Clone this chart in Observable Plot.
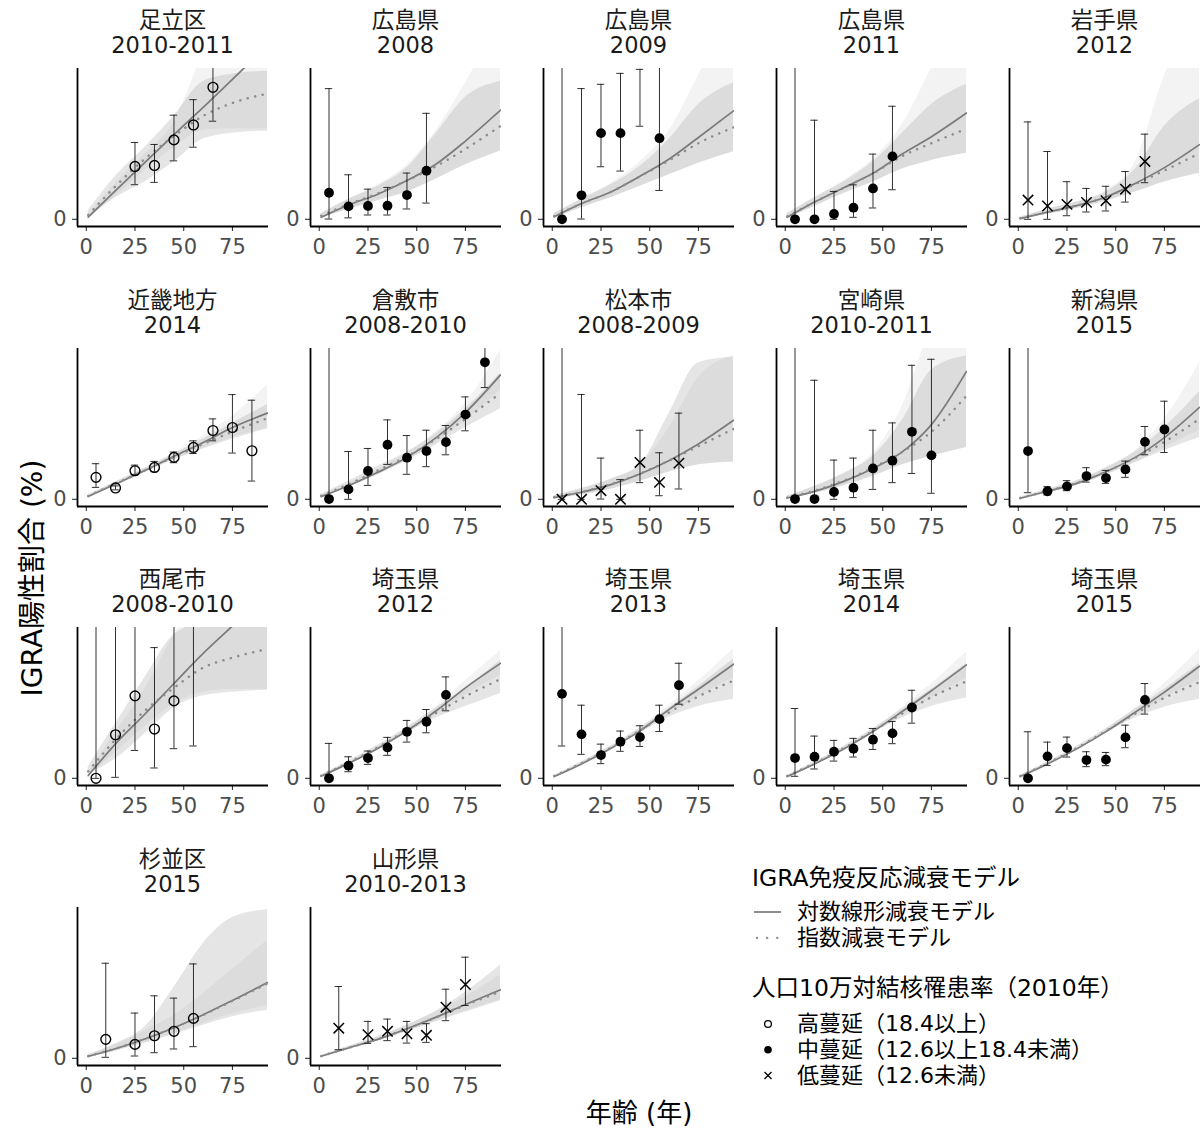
<!DOCTYPE html>
<html>
<head>
<meta charset="utf-8">
<script src="https://cdn.jsdelivr.net/npm/d3@7"></script>
<script src="https://cdn.jsdelivr.net/npm/@observablehq/plot@0.6"></script>
<style>
  body { margin: 0; background: #fff; }
  #chart { position: relative; width: 1202px; height: 1135px; overflow: hidden;
    font-family: "DejaVu Sans", "Noto Sans CJK JP", sans-serif; color: #1a1a1a; }
  .strip { position: absolute; width: 233px; text-align: center; font-size: 22.5px; line-height: 25px; white-space: nowrap; }
  .axis-title { position: absolute; font-size: 26px; white-space: nowrap; color: #000; }
  .leg { position: absolute; font-size: 22px; white-space: nowrap; color: #000; line-height: 22px; }
  .leg.head { font-size: 23.5px; }
  svg.panel { position: absolute; overflow: visible; }
</style>
</head>
<body>
<div id="chart"></div>
<script>
// Facet labels: region and survey period, plus TB notification tier (2010)
const regions = ["足立区","広島県","広島県","広島県","岩手県","近畿地方","倉敷市","松本市","宮崎県","新潟県","西尾市","埼玉県","埼玉県","埼玉県","埼玉県","杉並区","山形県"];
const periods = ["2010-2011","2008","2009","2011","2012","2014","2008-2010","2008-2009","2010-2011","2015","2008-2010","2012","2013","2014","2015","2015","2010-2013"];
const burden  = ["high","mid","mid","mid","low","high","mid","low","mid","mid","high","mid","mid","mid","mid","high","low"];

// Observed IGRA positivity by age group (relative to each panel's own scale) with 95% CI
const obsAge = [
  [25,35,45,55,65],
  [5,15,25,35,45,55],
  [5,15,25,35,45,55],
  [5,15,25,35,45,55],
  [5,15,25,35,45,55,65],
  [5,15,25,35,45,55,65,75,85],
  [5,15,25,35,45,55,65,75,85],
  [5,15,25,35,45,55,65],
  [5,15,25,35,45,55,65,75],
  [5,15,25,35,45,55,65,75],
  [5,15,25,35,45,55],
  [5,15,25,35,45,55,65],
  [5,15,25,35,45,55,65],
  [5,15,25,35,45,55,65],
  [5,15,25,35,45,55,65],
  [10,25,35,45,55],
  [10,25,35,45,55,65,75]
];
const obsValue = [
  [36.8,37.5,55.3,65.7,91.9],
  [18.5,9,9.3,9.5,16.9,33.8],
  [0,16.7,60,60,112,56.5],
  [0,0,3.7,8.1,21.5,43.8],
  [13.4,9.3,10.4,11.8,13,21,40.3],
  [15.3,7.9,19.9,22.2,29.2,36.1,47.9,50,33.8],
  [0.2,6.9,19.7,38,29,33.6,39.8,59,95.4],
  [0,0,6,0,25.7,11.8,25.2],
  [0.2,0.2,5.1,8.1,21.5,26.9,47,30.6],
  [33.6,5.6,9,16.2,14.8,20.8,40,48.6],
  [0,30.3,57.4,34.3,53.9,112],
  [0,8.8,14.1,21.5,32.4,39.4,58.1],
  [58.8,30.6,16.2,25.5,28.7,41.2,64.8],
  [14.1,15,18.5,20.6,26.9,31.3,49.3],
  [0,15.3,21,12.7,13,28.5,54.6],
  [13.2,9.7,15.7,18.8,27.8],
  [21,16.4,18.8,17.1,16,35.6,51.4]
];
const obsLow = [
  [24.1,25.7,40.7,50.2,68.3],
  [0.2,1,3,3,7.2,11.3],
  [0,0.2,36.6,33.6,64.8,20.1],
  [0,0,0,1.4,7.9,20.6],
  [0,0,2.5,5.1,5.8,12,25.5],
  [8.3,6.6,17.1,19.2,25.5,31.9,40.7,32.2,12.7],
  [0,0,9.7,24.3,17.4,22.7,31,47.7,77.8],
  [0,0,0.2,0,11.6,2.5,7.2],
  [0,0,0,1.2,6.9,11.6,18,4.2],
  [4.6,3,6,12,11.1,15.3,31,32.6],
  [0,0.7,19.4,7.2,20.6,22.5],
  [0,4.6,9.7,16,25.2,31.7,47],
  [22.5,16.7,10.2,18.8,22.2,32.6,51.6],
  [1.4,6.5,12,14.8,20.1,24.1,38.4],
  [0,9,14.8,8.1,8.8,21.3,44.7],
  [0.7,1.6,3.9,6.5,8.1],
  [6,10.4,12.3,10.6,11.1,26.2,36.8]
];
const obsHigh = [
  [53.5,52.1,72.5,83.3,130],
  [91,31,21,22.2,32.2,73.8],
  [150,91,94,101.6,104.4,150],
  [150,69,19.4,24,45.4,78.7],
  [67.8,47.2,26.2,21.5,23,33.3,59.3],
  [24.8,9.3,23.8,26.4,32.9,40.7,56,72.9,69],
  [150,33.3,35.4,55.3,44.4,48.1,51.4,71.3,130],
  [150,73,28.7,13.7,48.1,32.4,60],
  [150,82.9,27.3,28.7,48.1,53.2,93.3,97.5],
  [150,8.8,13,22,20.1,26.6,50.7,68.3],
  [150,150,150,91,150,150],
  [24.3,15,19,28.5,40.3,47.9,70.6],
  [150,50.9,23.8,32.9,36.6,50.9,80.1],
  [48.6,29.4,26.4,27.8,34.7,39.6,61.3],
  [32.4,25.2,28.7,18.5,18,37,66],
  [66.2,31.5,43.5,41.9,65.7],
  [50,25.7,27.3,25.7,24.1,48.1,70.4]
];

// Model predictions evaluated at these ages
const modelAges = [1,15,30,45,60,75,93];
// Log-linear decay model: mean and 95% band
const logLinMean = [
  [1.5,20,39.5,59,78,97.5,121],
  [1.5,10,17.5,27,38.5,54.5,76],
  [1.8,11,19,30,42,57,75.5],
  [1.4,12,22,32,45.5,57.5,74],
  [0.5,5,9.5,15.5,25,36,52],
  [2,10.6,20,30,39.5,50,60],
  [1.9,9.5,18.8,29.2,43,60.4,86.6],
  [1.2,4.9,10.2,17.6,27,38.5,55],
  [0.9,5.5,12.5,21.5,33,52,89],
  [0.7,5.6,11.1,19.2,29.2,43,64],
  [1.9,24,44.6,66,87,106,128],
  [1.4,10.4,20.8,33.1,47,63,80],
  [1.2,10,20.8,33,48,62,79.4],
  [1.2,10,20.4,32.6,46.5,61,79],
  [1.2,10,20.5,32.5,46,60,78],
  [1.4,6.7,13.4,21.3,30.3,40.3,52.8],
  [1.4,7.2,13.2,20.6,28.7,37.5,47.7]
];
const logLinLow = [
  [0.5,16,34,50,62,63,63],
  [0.5,7,13,19,28,38,47.5],
  [0.5,8,15,23,31,39,47],
  [0.5,9,18,26,35,41,46],
  [0.2,3.5,7.5,12.5,19,26,32],
  [1.5,9.5,18.5,27.5,35.5,43,50],
  [1.5,8.5,17,27,39.5,55,76],
  [0.5,3,7,12.5,19,24,26],
  [0.4,4,9.5,16,24,30,36],
  [0.4,4.6,9.8,17,25.5,36,48],
  [1,18,36,52,60,62,62],
  [1,9.6,19.8,31.5,44,58,72],
  [1,9.4,19.8,31.5,44,57,70],
  [1,9.4,19.5,31.5,43.5,56,70],
  [1,9.4,19.5,31.3,43.5,55.5,69],
  [0.8,5.5,11,17.5,24.5,31,37],
  [1,6.3,12,18.8,26,33,41]
];
const logLinHigh = [
  [3,25,45,68,115,150,170],
  [4,14,24,38,62,95,140],
  [4,14,25,40,62,100,150],
  [4,15,27,42,66,105,150],
  [1.5,7,12,20,40,100,150],
  [3,12,22,32,44,58,80],
  [3,11,21,32,47,67,104],
  [2.5,7.5,14,24,50,85,100],
  [2.5,9,18,32,65,120,160],
  [1.4,7,13,22,34,56,95],
  [4,32,62,100,130,150,170],
  [2.4,11.5,22,35,50,68,89],
  [2,11,22,35,51,68,90],
  [2,11,21.5,34,49.5,66,88],
  [2,11,21.5,34,49,66,90],
  [2.4,9.5,19,30,45,62,82],
  [1.8,8.2,14.7,23,32.5,43,58]
];
// Exponential decay model: mean and 95% band
const expMean = [
  [3,23,42,58,72,81,87.5],
  [2.5,10.5,18,27,37,49,65],
  [2.2,11,19,30,41,53,64],
  [2,12,22,32,44,53,63],
  [0.7,5,9.5,15.5,24.5,34,46],
  [2.3,11,20,29.5,38.5,47,56.5],
  [2.5,10.5,20,30,42,56,74],
  [1.5,5.2,10.5,17.8,27,37,49],
  [1.2,6,13,22,33,47,72],
  [0.9,5.8,11.3,19.3,28.8,40,56],
  [4.9,27,47,63,77,84,90],
  [1.8,11,21.5,33.5,45.5,57,69],
  [1.6,10.6,21.3,33.3,46,57,68],
  [1.6,10.5,21,33,45,56.5,67.5],
  [1.6,10.5,21,33,45,56,67],
  [1.5,6.8,13.5,21.3,30.2,40,52],
  [1.5,7.3,13.3,20.6,28.5,37,46.5]
];
const expLow = [
  [1,15,26,40,56,60,61.5],
  [0.5,7,13,19,28,38,47.5],
  [0.5,8,15,23,31,39,47],
  [0.5,9,18,26,35,41,46],
  [0.2,3.5,7.5,12.5,19,26,32],
  [1.5,9.5,18.5,27.5,35,42,49],
  [1.5,8.5,17,27,38,50,63],
  [0.5,3,7,12.5,19,24,26],
  [0.4,4,9.5,16,24,30,36],
  [0.4,4.6,9.8,17,25.5,34,43],
  [3,13.4,30.8,49,57.4,60,61.3],
  [1.2,9.8,20,31.5,42,50,59],
  [1,9.5,20,31.5,42.5,50,55],
  [1,9.6,19.8,31.5,42,50,56],
  [1,9.5,19.8,31.5,42,49.5,55],
  [0.8,5,10.5,16.5,23,29,33.5],
  [1,6.2,11.8,18.5,25.5,32,40]
];
const expHigh = [
  [6,30,50,72,96,101,103],
  [4,14,23,36,60,85,96],
  [4,14,24,37,56,80,95],
  [4,15,26,40,60,80,94],
  [1.5,7,12,19,35,65,84],
  [3,12,21.5,31.5,42,53,66],
  [3.5,12.5,23,33,46,63,88],
  [2.5,7.5,14,24,60,95,99],
  [2.5,9,18,30,55,90,100],
  [1.4,7,13,22,33,50,75],
  [8,38,70,100,108,108,108],
  [2.4,12,23,35.5,49,63,82],
  [2.2,11.5,22.5,35,49,64,83],
  [2.2,11.4,22.3,34.5,48,62,80],
  [2.2,11.5,22.3,34.5,48,62,80],
  [2.5,10.2,21.8,49.5,80,98,103.5],
  [2,8.4,15,23,33,46,65]
];

const xTicks = [0, 25, 50, 75];
const yTicks = [0];
const legendModels = ["対数線形減衰モデル", "指数減衰モデル"];
const legendTiers = ["高蔓延（18.4以上）", "中蔓延（12.6以上18.4未満）", "低蔓延（12.6未満）"];

// ---- layout ----
const FONT = '"DejaVu Sans", "Noto Sans CJK JP", sans-serif';
const colX = [77, 310, 543, 776, 1009];
const rowY = [68, 348, 627, 907];
const PW = 191, PH = 158;
const ML = 44, MR = 2, MT = 2, MB = 44;
const X_DOMAIN = [-4.5, 93.5];
const Y_DOMAIN = [-5, 105];
const CAP = 1.9; // half-width of error-bar caps, in years
const DOTTED = "0.1 7.6";

const symbolStyle = {
  high: {symbol: "circle", r: 4.9, fill: "none", stroke: "#000", strokeWidth: 1.4},
  mid:  {symbol: "circle", r: 4.9, fill: "#000", stroke: "none"},
  low:  {symbol: "times", r: 4.8, fill: "none", stroke: "#000", strokeWidth: 1.5}
};

const chart = document.getElementById("chart");

regions.forEach((region, i) => {
  const col = i % 5, row = Math.floor(i / 5);
  const obs = obsAge[i].map((a, j) => ({age: a, v: obsValue[i][j], lo: obsLow[i][j], hi: obsHigh[i][j]}));
  const model = modelAges.map((a, j) => ({
    age: a,
    ll: logLinMean[i][j], llLo: logLinLow[i][j], llHi: logLinHigh[i][j],
    ex: expMean[i][j], exLo: expLow[i][j], exHi: expHigh[i][j]
  }));

  const svg = Plot.plot({
    width: ML + PW + MR,
    height: MT + PH + MB,
    marginLeft: ML, marginRight: MR, marginTop: MT, marginBottom: MB,
    x: {domain: X_DOMAIN},
    y: {domain: Y_DOMAIN},
    style: {fontFamily: FONT, background: "transparent", overflow: "visible"},
    marks: [
      Plot.areaY(model, {x: "age", y1: "exLo", y2: "exHi", fill: "#999", fillOpacity: 0.25, curve: "monotone-x", clip: true}),
      Plot.areaY(model, {x: "age", y1: "llLo", y2: "llHi", fill: "#999", fillOpacity: 0.12, curve: "monotone-x", clip: true}),
      Plot.line(model, {x: "age", y: "ll", stroke: "#7a7a7a", strokeWidth: 1.7, curve: "monotone-x", clip: true}),
      Plot.line(model, {x: "age", y: "ex", stroke: "#8c8c8c", strokeWidth: 2.5, strokeLinecap: "round", strokeDasharray: DOTTED, curve: "monotone-x", clip: true}),
      Plot.ruleX(obs, {x: "age", y1: "lo", y2: "hi", stroke: "#1a1a1a", strokeWidth: 0.9, clip: true}),
      Plot.ruleY(obs, {y: "hi", x1: d => d.age - CAP, x2: d => d.age + CAP, stroke: "#1a1a1a", strokeWidth: 0.9, clip: true}),
      Plot.ruleY(obs, {y: "lo", x1: d => d.age - CAP, x2: d => d.age + CAP, stroke: "#1a1a1a", strokeWidth: 0.9, clip: true}),
      Plot.dot(obs, {x: "age", y: "v", ...symbolStyle[burden[i]], clip: true}),
      Plot.axisX({ticks: xTicks, tickSize: 5, tickPadding: 8, fontSize: 21, label: null, stroke: "#333", strokeWidth: 1.1, fill: "#4d4d4d"}),
      Plot.axisY({ticks: yTicks, tickSize: 5, tickPadding: 6, fontSize: 21, label: null, stroke: "#333", strokeWidth: 1.1, fill: "#4d4d4d"}),
      Plot.ruleY([Y_DOMAIN[0]], {stroke: "#000", strokeWidth: 1.8}),
      Plot.ruleX([X_DOMAIN[0]], {stroke: "#000", strokeWidth: 1.8})
    ]
  });
  svg.classList.add("panel");
  svg.style.left = (colX[col] - ML) + "px";
  svg.style.top = (rowY[row] - MT) + "px";
  chart.appendChild(svg);

  const strip = document.createElement("div");
  strip.className = "strip";
  strip.style.left = (colX[col] + PW / 2 - 116.5) + "px";
  strip.style.top = (rowY[row] - 60) + "px";
  strip.innerHTML = region + "<br>" + periods[i];
  chart.appendChild(strip);
});

// axis titles
const yTitle = document.createElement("div");
yTitle.className = "axis-title";
yTitle.textContent = "IGRA陽性割合 (%)";
yTitle.style.fontSize = "28px";
yTitle.style.left = "30px";
yTitle.style.top = "578px";
yTitle.style.transform = "translate(-50%, -50%) rotate(-90deg)";
chart.appendChild(yTitle);

const xTitle = document.createElement("div");
xTitle.className = "axis-title";
xTitle.textContent = "年齢 (年)";
xTitle.style.left = "639px";
xTitle.style.top = "1110px";
xTitle.style.transform = "translate(-50%, -50%)";
chart.appendChild(xTitle);

// legends
function legText(txt, x, yCenter, head) {
  const d = document.createElement("div");
  d.className = head ? "leg head" : "leg";
  d.textContent = txt;
  d.style.left = x + "px";
  d.style.top = (yCenter - 11) + "px";
  chart.appendChild(d);
}
legText("IGRA免疫反応減衰モデル", 752, 878, true);
legText(legendModels[0], 797, 912);
legText(legendModels[1], 797, 938);
legText("人口10万対結核罹患率（2010年）", 752, 988, true);
legendTiers.forEach((t, k) => legText(t, 797, 1024 + k * 25.8));

const keys = d3.select(chart).append("svg")
  .attr("width", 60).attr("height", 200)
  .style("position", "absolute").style("left", "745px").style("top", "895px");
keys.append("line").attr("x1", 9).attr("x2", 36).attr("y1", 17).attr("y2", 17)
  .attr("stroke", "#7a7a7a").attr("stroke-width", 1.7);
keys.append("line").attr("x1", 12).attr("x2", 36).attr("y1", 43).attr("y2", 43)
  .attr("stroke", "#8c8c8c").attr("stroke-width", 2.3).attr("stroke-linecap", "round").attr("stroke-dasharray", "0.1 10");
keys.append("circle").attr("cx", 23).attr("cy", 129).attr("r", 3.4)
  .attr("fill", "none").attr("stroke", "#000").attr("stroke-width", 1.3);
keys.append("circle").attr("cx", 23).attr("cy", 154.8).attr("r", 3.8).attr("fill", "#000");
keys.append("path").attr("d", "M19.5,177L26.5,184M19.5,184L26.5,177")
  .attr("stroke", "#000").attr("stroke-width", 1.3);
</script>
</body>
</html>
